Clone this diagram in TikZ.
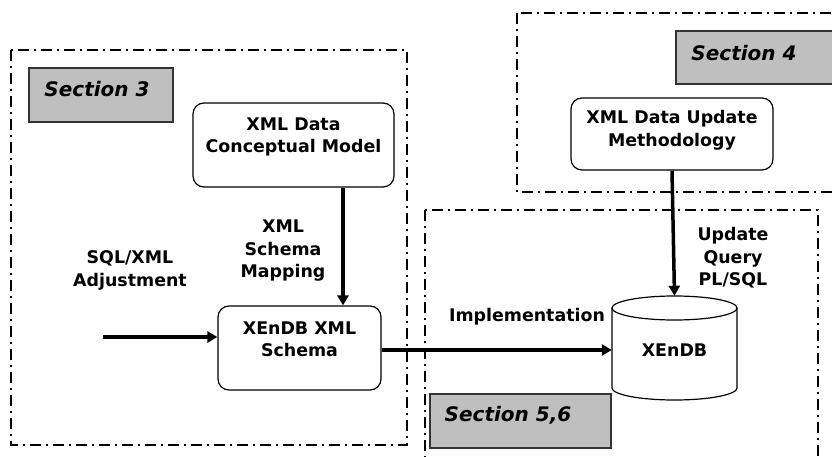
\documentclass[tikz,border=0pt]{standalone}
\usepackage{fontspec}
\setmainfont{DejaVu Sans}
\usetikzlibrary{arrows.meta}
\begin{document}
\begin{tikzpicture}[x=1pt,y=-1pt,
  secline/.style={line width=2pt, dash pattern=on 11pt off 5pt on 2pt off 5pt},
  seclab/.style={draw=black!80, line width=1.2pt, fill=black!25},
  sectxt/.style={font=\fontsize{20}{24}\selectfont\bfseries\itshape, inner sep=0pt},
  box/.style={draw, line width=1.2pt, rounded corners=11pt, fill=white},
  txt/.style={font=\fontsize{17.4}{22.5}\selectfont\bfseries, align=center, inner sep=0pt},
  arr/.style={line width=3.5pt, -{Triangle[length=10pt,width=11pt]}}]
\path[use as bounding box, clip] (0,0) rectangle (832,457);
% section frames
\draw[secline] (11,50) rectangle (407,445);
\draw[secline] (517,13) rectangle (840,192);
\draw[secline] (425,210) rectangle (818,470);
% section labels
\draw[seclab] (29,68) rectangle (173,122);
\node[sectxt] (s3) at (97,89) {Section 3};
\draw[seclab] (676,31) rectangle (840,84);
\node[sectxt] (s4) at (744,53) {Section 4};
\draw[seclab] (430,394) rectangle (611,448);
\node[sectxt] (s56) at (508,415) {Section 5,6};
% boxes
\node[box, minimum width=201pt, minimum height=84pt] (cm) at (293.5,145) {};
\node[txt] at (293.5,137) {XML Data\\Conceptual Model};
\node[box, minimum width=163pt, minimum height=84pt] (xs) at (299.5,348) {};
\node[txt] at (299.5,339.5) {XEnDB XML\\Schema};
\node[box, minimum width=202pt, minimum height=72pt] (um) at (672,134) {};
\node[txt] at (672,130.5) {XML Data Update\\Methodology};
% cylinder
\node[minimum width=125pt, minimum height=104pt, inner sep=0pt] (db) at (674.5,348) {};
\draw[line width=1.2pt, fill=white] (612,308) -- (612,388) arc[start angle=180, end angle=0, x radius=62.5, y radius=12] -- (737,308);
\draw[line width=1.2pt] (674.5,308) ellipse[x radius=62.5, y radius=12];
\node[txt] at (674.5,350) {XEnDB};
% start of left arrow
\coordinate (in) at (103,337);
% arrows
\draw[arr] (cm.south -| 343,0) -- (xs.north -| 343,0);
\draw[arr] (in) -- (in -| xs.west);
\draw[arr] (xs.east |- 0,350) -- (db.west |- 0,350);
\draw[arr] (um.south) -- (db.north);
% labels
\node[txt] at (283,251) {XML\\Schema\\Mapping};
\node[txt] at (130,270.5) {SQL/XML\\Adjustment};
\node[txt] at (527,317) {Implementation};
\node[txt] at (733,258) {Update\\Query\\PL/SQL};
\end{tikzpicture}
\end{document}
